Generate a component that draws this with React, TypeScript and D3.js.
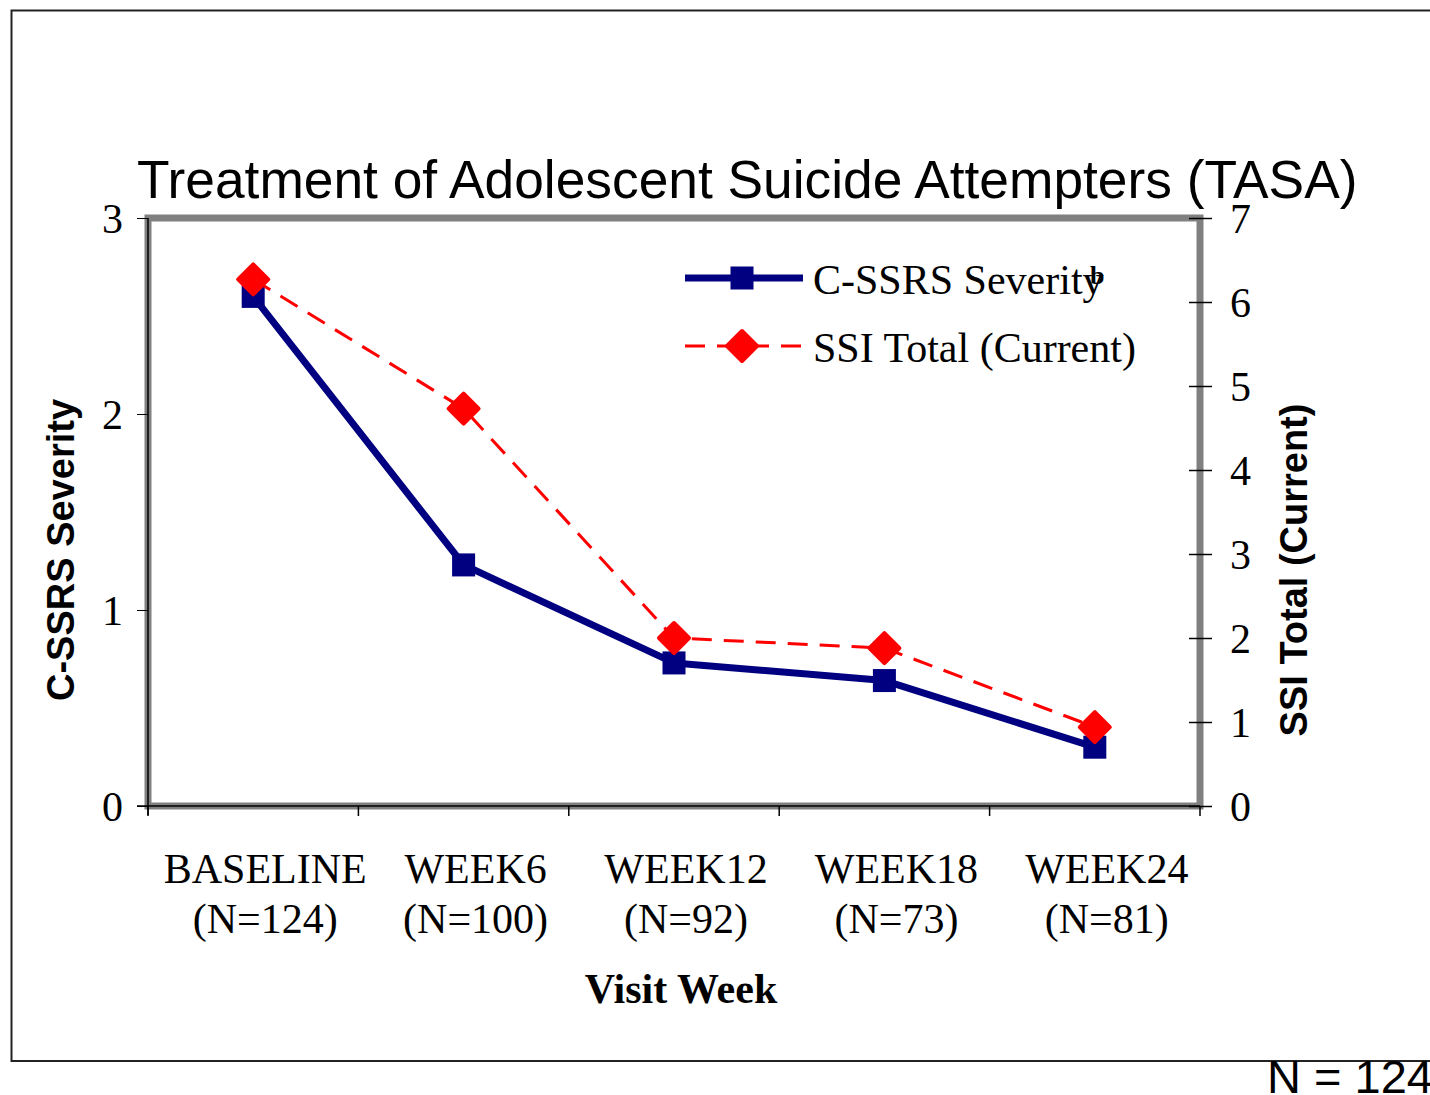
import React, { useEffect, useRef } from "react";
import * as d3 from "d3";

const weeks = ["BASELINE", "WEEK6", "WEEK12", "WEEK18", "WEEK24"];
const counts = ["(N=124)", "(N=100)", "(N=92)", "(N=73)", "(N=81)"];
const cssrsSeverity = [2.6, 1.23, 0.73, 0.64, 0.3];
const ssiTotal = [6.27, 4.73, 2.0, 1.88, 0.94];
const leftTicks = [0, 1, 2, 3];
const rightTicks = [0, 1, 2, 3, 4, 5, 6, 7];

const App = () => {
  const svgRef = useRef<SVGSVGElement>(null);

  useEffect(() => {
    const svg = d3.select(svgRef.current);
    svg.selectAll("*").remove();

    const W = 1430, H = 1095;
    const left = 148, right = 1200, top = 218, bottom = 806;
    const serif = "'Liberation Serif', 'Times New Roman', serif";
    const sans = "'Liberation Sans', Arial, sans-serif";

    svg.attr("width", W).attr("height", H);

    // outer frame
    svg.append("path")
      .attr("d", `M${W + 5},10.5 H11.5 V1061 H${W + 5}`)
      .attr("fill", "none").attr("stroke", "#222").attr("stroke-width", 2);

    const x = d3.scaleBand().domain(weeks).range([left, right]);
    const yL = d3.scaleLinear().domain([0, 3]).range([bottom, top]);
    const yR = d3.scaleLinear().domain([0, 7]).range([bottom, top]);

    // gray plot frame
    svg.append("rect")
      .attr("x", left).attr("y", top)
      .attr("width", right - left).attr("height", bottom - top)
      .attr("fill", "white").attr("stroke", "#808080").attr("stroke-width", 7);

    // left axis
    const gL = svg.append("g").attr("transform", `translate(${left},0)`)
      .call(d3.axisLeft(yL).tickValues(leftTicks).tickSize(11).tickPadding(14).tickFormat(d3.format("d")));
    gL.select(".domain").attr("d", `M0,${top}V${bottom + 9}`).attr("stroke", "#000").attr("stroke-width", 1.5);
    gL.selectAll("text").attr("font-family", serif).attr("font-size", 42).attr("fill", "#000").attr("dy", "0.35em");

    // right axis (ticks cross the line)
    const gR = svg.append("g").attr("transform", `translate(${right},0)`)
      .call(d3.axisRight(yR).tickValues(rightTicks).tickSize(12).tickPadding(18).tickFormat(d3.format("d")));
    gR.select(".domain").remove();
    gR.selectAll(".tick line").attr("x1", -11).attr("stroke-width", 1.5);
    gR.selectAll("text").attr("font-family", serif).attr("font-size", 42).attr("fill", "#000").attr("dy", "0.35em");

    // bottom axis
    const gB = svg.append("g").attr("transform", `translate(0,${bottom})`);
    gB.append("line").attr("x1", left - 11).attr("x2", right).attr("stroke", "#000").attr("stroke-width", 1.5);
    const bounds = weeks.map(w => x(w)!).concat([right]);
    gB.selectAll("line.tk").data(bounds).enter().append("line")
      .attr("class", "tk")
      .attr("x1", d => d).attr("x2", d => d).attr("y1", 0).attr("y2", 10)
      .attr("stroke", "#000").attr("stroke-width", 1.5);

    const labels = svg.append("g").selectAll("text").data(weeks).enter().append("text")
      .attr("x", d => x(d)! + x.bandwidth() / 2 + 12)
      .attr("text-anchor", "middle")
      .attr("font-family", serif).attr("font-size", 42).attr("fill", "#000");
    labels.append("tspan").attr("x", d => x(d)! + x.bandwidth() / 2 + 12).attr("y", 883).text(d => d);
    labels.append("tspan").attr("x", d => x(d)! + x.bandwidth() / 2 + 12).attr("y", 933).text((d, i) => counts[i]);

    // axis titles
    svg.append("text").attr("x", 681).attr("y", 1003).attr("text-anchor", "middle")
      .attr("font-family", serif).attr("font-weight", "bold").attr("font-size", 42).text("Visit Week");
    svg.append("text").attr("transform", "translate(74,550) rotate(-90)").attr("text-anchor", "middle")
      .attr("font-family", sans).attr("font-weight", "bold").attr("font-size", 38).text("C-SSRS Severity");
    svg.append("text").attr("transform", "translate(1307,570) rotate(-90)").attr("text-anchor", "middle")
      .attr("font-family", sans).attr("font-weight", "bold").attr("font-size", 38).text("SSI Total (Current)");

    // title
    svg.append("text").attr("x", 137).attr("y", 198)
      .attr("font-family", sans).attr("font-size", 53.3).attr("fill", "#000")
      .text("Treatment of Adolescent Suicide Attempters (TASA)");

    const cx = (d: string) => x(d)! + x.bandwidth() / 2;
    const navy = "#000080", red = "#ff0000";

    // C-SSRS series
    const lineL = d3.line<number>().x((d, i) => cx(weeks[i])).y(d => yL(d));
    svg.append("path").attr("d", lineL(cssrsSeverity))
      .attr("fill", "none").attr("stroke", navy).attr("stroke-width", 7).attr("stroke-linejoin", "round");
    const squareSize = 23;
    svg.append("g").selectAll("rect").data(cssrsSeverity).enter().append("rect")
      .attr("x", (d, i) => cx(weeks[i]) - squareSize / 2).attr("y", d => yL(d) - squareSize / 2)
      .attr("width", squareSize).attr("height", squareSize).attr("fill", navy);

    // SSI series
    const lineR = d3.line<number>().x((d, i) => cx(weeks[i])).y(d => yR(d));
    svg.append("path").attr("d", lineR(ssiTotal))
      .attr("fill", "none").attr("stroke", red).attr("stroke-width", 3).attr("stroke-dasharray", "20,12");
    const diamond = (px: number, py: number) =>
      `M${px},${py - 15} L${px + 15},${py} L${px},${py + 15} L${px - 15},${py} Z`;
    svg.append("g").selectAll("path").data(ssiTotal).enter().append("path")
      .attr("d", (d, i) => diamond(cx(weeks[i]), yR(d)))
      .attr("fill", red).attr("stroke", red).attr("stroke-width", 4).attr("stroke-linejoin", "round");

    // legend
    const lg = svg.append("g");
    lg.append("line").attr("x1", 685).attr("x2", 803).attr("y1", 278).attr("y2", 278)
      .attr("stroke", navy).attr("stroke-width", 7);
    lg.append("rect").attr("x", 742 - squareSize / 2).attr("y", 278 - squareSize / 2)
      .attr("width", squareSize).attr("height", squareSize).attr("fill", navy);
    lg.append("text").attr("x", 813).attr("y", 294).attr("font-family", serif).attr("font-size", 42)
      .text("C-SSRS Severity");
    lg.append("text").attr("x", 1090).attr("y", 284).attr("font-family", serif).attr("font-weight", "bold")
      .attr("font-size", 26).text("b");

    lg.append("line").attr("x1", 685).attr("x2", 803).attr("y1", 346).attr("y2", 346)
      .attr("stroke", red).attr("stroke-width", 3).attr("stroke-dasharray", "20,12");
    lg.append("path").attr("d", diamond(742, 346))
      .attr("fill", red).attr("stroke", red).attr("stroke-width", 4).attr("stroke-linejoin", "round");
    lg.append("text").attr("x", 813).attr("y", 362).attr("font-family", serif).attr("font-size", 42)
      .text("SSI Total (Current)");

    // footnote
    svg.append("text").attr("x", 1267).attr("y", 1093)
      .attr("font-family", sans).attr("font-size", 47).text("N = 124");
  }, []);

  return <svg ref={svgRef} style={{ position: "absolute", left: 0, top: 0, background: "white" }}></svg>;
};

export default App;
